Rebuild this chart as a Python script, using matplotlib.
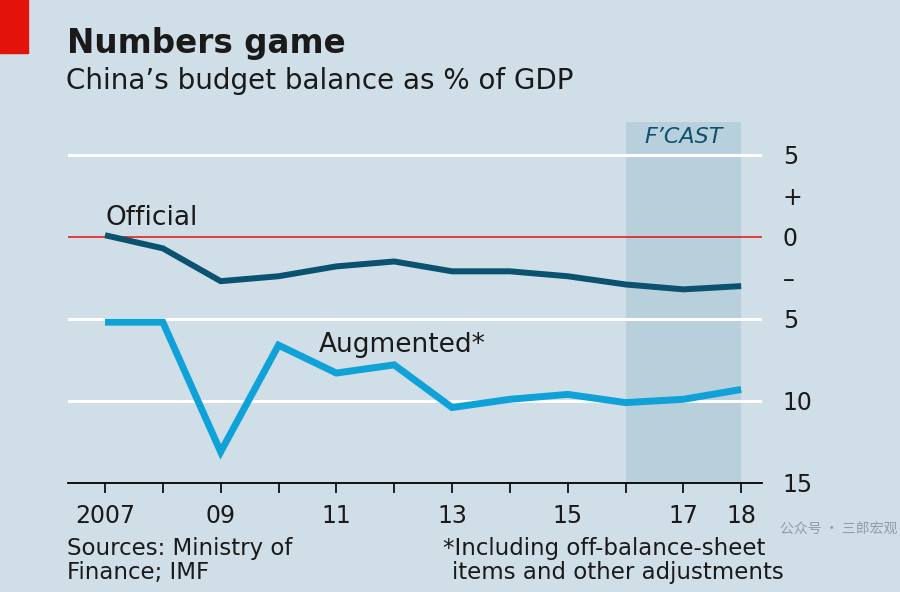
import matplotlib
matplotlib.use("Agg")
import matplotlib.pyplot as plt
from matplotlib.patches import Rectangle

years = [2007, 2008, 2009, 2010, 2011, 2012, 2013, 2014, 2015, 2016, 2017, 2018]
official = [0.1, -0.7, -2.7, -2.4, -1.8, -1.5, -2.1, -2.1, -2.4, -2.9, -3.2, -3.0]
augmented = [-5.2, -5.2, -13.1, -6.6, -8.3, -7.8, -10.4, -9.9, -9.6, -10.1, -9.9, -9.3]
xtick_labels = {2007: "2007", 2009: "09", 2011: "11", 2013: "13", 2015: "15", 2017: "17", 2018: "18"}
ytick_vals = [5, 2.5, 0, -2.5, -5, -10, -15]
ytick_labels = ["5", "+", "0", "\u2013", "5", "10", "15"]

BG = "#cfdee7"
SHADE = "#b8cfdc"
DARK = "#0b5170"
LIGHT = "#0ea2d8"
TXT = "#1a1a1a"
FONT = "DejaVu Sans"

fig = plt.figure(figsize=(9, 5.92), dpi=100, facecolor=BG)
ax = fig.add_axes([68/900, 1-483/592, (762-68)/900, (483-122)/592])
ax.set_facecolor(BG)
ax.set_xlim(2006.36, 2018.36)
ax.set_ylim(-15, 7.0)

ax.axvspan(2016, 2018, color=SHADE, zorder=0, lw=0)
for v in [5, -5, -10]:
    ax.axhline(v, color="white", lw=2.2, zorder=1)
ax.axhline(0, color="#e3120b", lw=1.1, zorder=2)
ax.axhline(-15, color="black", lw=1.3, zorder=3, clip_on=False)

ax.plot(years, official, color=DARK, lw=4.3, solid_joinstyle="miter", solid_capstyle="butt", zorder=4)
ax.plot(years, augmented, color=LIGHT, lw=5.0, solid_joinstyle="miter", solid_capstyle="butt", zorder=4)

for s in ax.spines.values():
    s.set_visible(False)

ax.set_xticks(years)
ax.set_xticklabels([xtick_labels.get(y, "") for y in years], fontfamily=FONT, fontsize=17, color=TXT)
ax.tick_params(axis="x", length=7, width=1.2, color="black", pad=8)

ax.yaxis.tick_right()
ax.set_yticks(ytick_vals)
ax.set_yticklabels(ytick_labels, fontfamily=FONT, fontsize=17, color=TXT)
ax.tick_params(axis="y", length=0, pad=15)
for lab in ax.get_yticklabels():
    lab.set_horizontalalignment("left")

ax.text(2007, 0.72, "Official", fontfamily=FONT, fontsize=19, color=TXT, ha="left", va="baseline", zorder=5)
ax.text(2010.7, -6.6, "Augmented*", fontfamily=FONT, fontsize=19, color=TXT, ha="left", va="center", zorder=5)
ax.text(2017, 6.1, "F\u2019CAST", fontfamily=FONT, fontsize=16, style="italic", color=DARK, ha="center", va="center", zorder=5)

fig.patches.append(Rectangle((0, 1-53/592), 28/900, 53/592, transform=fig.transFigure, color="#e3120b"))
fig.text(67/900, 1-43/592, "Numbers game", fontfamily=FONT, fontsize=23.5, fontweight="bold", color=TXT, va="center", ha="left")
fig.text(66/900, 1-81/592, "China\u2019s budget balance as % of GDP", fontfamily=FONT, fontsize=20, color=TXT, va="center", ha="left")

fig.text(67/900, 1-548/592, "Sources: Ministry of", fontfamily=FONT, fontsize=16.5, color=TXT, va="center", ha="left")
fig.text(67/900, 1-572/592, "Finance; IMF", fontfamily=FONT, fontsize=16.5, color=TXT, va="center", ha="left")
fig.text(443/900, 1-548/592, "*Including off-balance-sheet", fontfamily=FONT, fontsize=16.5, color=TXT, va="center", ha="left")
fig.text(452/900, 1-572/592, "items and other adjustments", fontfamily=FONT, fontsize=16.5, color=TXT, va="center", ha="left")

fig.text(897/900, 1-530/592, "\u516c\u4f17\u53f7 \u00b7 \u4e09\u90ce\u5b8f\u89c2", fontfamily=["Noto Sans CJK SC", "DejaVu Sans"],
         fontsize=10, color="#8f9ea8", va="center", ha="right", zorder=10)

fig.savefig("out.png", dpi=100, facecolor=BG)
